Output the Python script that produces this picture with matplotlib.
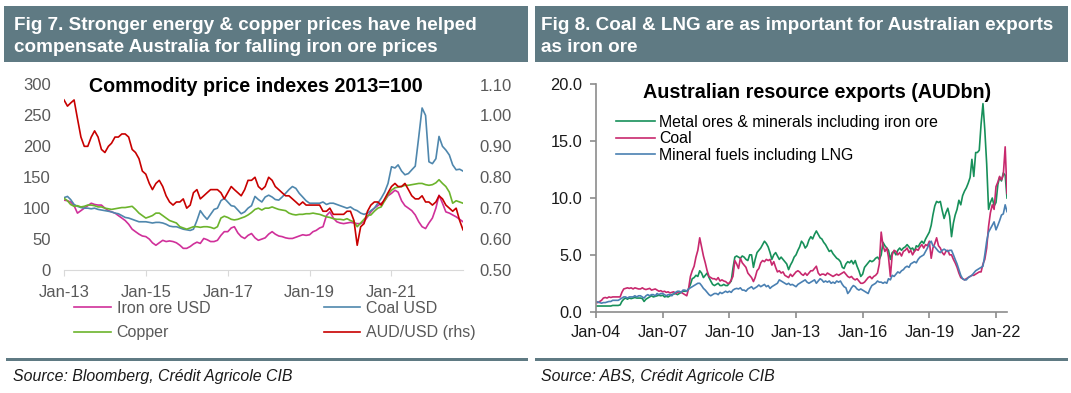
import numpy as np
import pandas as pd
import matplotlib
matplotlib.use("Agg")
import matplotlib.pyplot as plt
import matplotlib.dates as mdates
from matplotlib.patches import Rectangle
from matplotlib.ticker import FormatStrFormatter

plt.rcParams['font.family'] = ['Liberation Sans', 'DejaVu Sans']

# --- Fig 7: indices mensuales, Jan-13 .. Oct-22 (2013=100) ---
fechas_fig7 = pd.date_range('2013-01-01', periods=118, freq='MS')

hierro_usd = [
    113, 112, 110, 104, 92, 96, 100, 104, 108, 106, 105, 105,
    100, 96, 94, 92, 88, 84, 80, 74, 66, 62, 58, 55,
    54, 50, 44, 40, 44, 48, 46, 47, 46, 44, 40, 35,
    35, 38, 42, 45, 43, 51, 49, 46, 46, 48, 56, 62,
    62, 68, 70, 60, 54, 51, 56, 59, 52, 48, 50, 52,
    58, 62, 58, 55, 54, 52, 51, 51, 53, 55, 57, 56,
    57, 62, 64, 68, 70, 88, 94, 84, 78, 76, 75, 76,
    77, 76, 75, 75, 78, 86, 94, 100, 104, 108, 112, 120,
    124, 129, 126, 112, 104, 100, 96, 89, 78, 70, 67, 76,
    84, 100, 121, 108, 94, 92, 89, 86, 82, 78,
]
carbon_usd = [
    117, 119, 114, 106, 103, 101, 100, 100, 99, 100, 98, 97,
    96, 95, 94, 92, 91, 88, 85, 84, 82, 80, 78, 78,
    78, 77, 76, 77, 77, 76, 74, 71, 70, 70, 68, 66,
    65, 64, 66, 80, 96, 88, 82, 90, 98, 100, 112, 116,
    110, 104, 103, 97, 91, 94, 100, 104, 119, 114, 110, 118,
    121, 118, 114, 113, 118, 124, 130, 135, 132, 124, 118, 112,
    108, 108, 108, 108, 110, 106, 108, 108, 106, 104, 102, 100,
    102, 98, 96, 92, 90, 92, 96, 100, 108, 116, 126, 140,
    167, 165, 170, 160, 154, 156, 162, 168, 215, 262, 250, 175,
    172, 180, 216, 200, 194, 186, 170, 162, 163, 160,
]
cobre = [
    116, 112, 106, 103, 104, 102, 103, 105, 105, 104, 102, 102,
    100, 99, 98, 99, 100, 101, 101, 102, 103, 98, 92, 88,
    84, 86, 88, 92, 92, 88, 84, 80, 78, 76, 70, 68,
    66, 68, 70, 70, 69, 70, 70, 69, 67, 70, 84, 87,
    85, 82, 81, 82, 84, 86, 89, 93, 98, 100, 97, 100,
    100, 102, 100, 98, 97, 96, 92, 90, 89, 90, 90, 91,
    91, 92, 91, 90, 88, 86, 85, 83, 82, 82, 81, 83,
    80, 78, 70, 76, 82, 88, 89, 95, 100, 102, 112, 122,
    129, 133, 134, 135, 137, 137, 138, 139, 140, 140, 138, 137,
    138, 141, 146, 140, 135, 126, 108, 112, 110, 108,
]
aud_usd = [
    1.05, 1.03, 1.04, 1.05, 0.99, 0.93, 0.90, 0.90, 0.93, 0.95, 0.93, 0.89,
    0.88, 0.90, 0.91, 0.93, 0.93, 0.94, 0.94, 0.93, 0.89, 0.88, 0.86, 0.82,
    0.81, 0.78, 0.76, 0.78, 0.79, 0.77, 0.74, 0.72, 0.71, 0.72, 0.72, 0.73,
    0.70, 0.71, 0.75, 0.76, 0.73, 0.74, 0.75, 0.76, 0.76, 0.76, 0.75, 0.73,
    0.75, 0.77, 0.76, 0.75, 0.74, 0.76, 0.79, 0.79, 0.80, 0.77, 0.76, 0.77,
    0.80, 0.79, 0.77, 0.76, 0.75, 0.74, 0.74, 0.73, 0.72, 0.71, 0.72, 0.71,
    0.71, 0.71, 0.71, 0.71, 0.69, 0.69, 0.70, 0.68, 0.68, 0.68, 0.68, 0.69,
    0.69, 0.66, 0.58, 0.64, 0.65, 0.69, 0.71, 0.72, 0.72, 0.71, 0.73, 0.75,
    0.77, 0.78, 0.77, 0.77, 0.78, 0.76, 0.74, 0.73, 0.73, 0.74, 0.72, 0.72,
    0.71, 0.72, 0.74, 0.73, 0.71, 0.70, 0.69, 0.70, 0.66, 0.63,
]
ticks_fig7 = pd.date_range('2013-01-01', periods=5, freq='24MS')

# --- Fig 8: exportaciones mensuales (AUDbn), Jan-04 .. Jul-22 ---
fechas_fig8 = pd.date_range('2004-01-01', periods=223, freq='MS')

metales = [
    0.5, 0.5, 0.5, 0.5, 0.5, 0.5, 0.5, 0.5, 0.5, 0.55, 0.55, 0.55,
    0.55, 0.6, 0.9, 1.1, 1.2, 1.1, 1.2, 1.15, 1.2, 1.25, 1.2, 1.2,
    1.2, 1.15, 0.9, 1.1, 1.2, 1.3, 1.4, 1.3, 1.35, 1.4, 1.45, 1.4,
    1.45, 1.3, 1.35, 1.3, 1.4, 1.5, 1.55, 1.6, 1.5, 1.6, 1.7, 1.8,
    1.8, 1.8, 2.0, 2.4, 2.9, 3.0, 3.2, 3.1, 3.6, 3.4, 3.0, 3.2,
    3.4, 3.0, 2.7, 2.4, 2.3, 2.4, 2.5, 2.3, 2.3, 2.4, 2.3, 2.3,
    2.5, 2.7, 3.8, 4.8, 4.9, 4.8, 4.7, 4.9, 4.8, 4.6, 4.5, 5.0,
    5.0, 3.9, 4.6, 5.2, 5.4, 5.6, 5.9, 6.2, 6.0, 5.7, 5.2, 4.6,
    5.0, 5.2, 4.9, 4.6, 4.8, 4.6, 4.4, 4.2, 3.7, 4.1, 4.4, 4.8,
    5.0, 5.4, 5.7, 6.2, 6.0, 5.6, 5.8, 6.3, 6.6, 6.4, 6.8, 7.1,
    6.8, 6.5, 6.4, 6.1, 5.9, 5.6, 5.3, 5.4, 5.1, 4.9, 4.7, 4.6,
    4.4, 3.9, 3.8, 4.2, 4.4, 4.3, 4.5, 4.2, 4.5, 4.0, 3.6, 3.1,
    3.3, 3.9, 4.1, 4.3, 4.5, 4.4, 4.5, 4.7, 4.8, 4.6, 5.0, 6.1,
    5.8, 5.6, 5.4, 4.6, 5.2, 5.3, 5.0, 5.4, 5.6, 5.4, 5.6, 5.7,
    5.9, 5.7, 5.5, 5.6, 5.3, 5.8, 5.7, 6.0, 6.2, 6.0, 6.4, 6.7,
    7.0, 7.6, 8.5, 9.3, 9.7, 9.6, 9.7, 8.9, 8.2, 8.7, 9.1, 8.4,
    6.6, 7.8, 8.5, 9.0, 9.8, 9.4, 10.2, 10.6, 10.9, 11.3, 11.8, 13.4,
    11.9, 14.0, 14.0, 14.2, 16.5, 18.3, 16.0, 13.0, 9.0, 9.6, 10.0, 9.3,
    9.6, 11.2, 11.8, 11.5, 12.2, 12.0, 10.0,
]
carbon = [
    0.8, 0.8, 0.9, 1.0, 1.2, 1.25, 1.2, 1.3, 1.25, 1.3, 1.3, 1.3,
    1.3, 1.3, 1.7, 2.0, 2.05, 2.1, 2.05, 2.1, 2.0, 2.1, 2.05, 2.0,
    2.0, 2.1, 2.0, 1.95, 2.0, 2.05, 1.9, 1.95, 2.0, 1.9, 1.8, 1.85,
    1.75, 1.8, 1.7, 1.75, 1.65, 1.7, 1.75, 1.6, 1.7, 1.75, 1.7, 1.6,
    1.5, 1.4, 2.0, 3.1, 3.6, 4.0, 4.8, 5.4, 6.5, 5.7, 4.9, 4.3,
    3.6, 3.1, 3.0, 2.9, 2.9, 2.8, 3.0, 2.7, 2.8, 2.7, 2.65, 2.5,
    2.5, 2.8, 3.1, 4.5, 4.2, 3.8, 4.7, 4.3, 4.1, 3.9, 3.4, 3.2,
    3.0, 2.65, 3.0, 3.6, 3.8, 4.3, 4.5, 4.4, 4.6, 4.5, 4.6, 4.1,
    4.4, 3.9, 3.5, 3.6, 3.4, 3.5, 3.2, 3.1, 3.0, 3.3, 3.1, 3.3,
    3.5, 3.6, 3.5, 3.3, 3.2, 3.4, 3.2, 3.4, 3.6, 3.6, 3.8, 4.0,
    3.4, 3.2, 3.3, 3.3, 3.2, 3.4, 3.3, 3.2, 3.1, 3.2, 3.3, 3.2,
    3.3, 3.4, 3.5, 3.3, 3.1, 3.0, 3.1, 2.9, 2.8, 2.9, 2.7, 2.5,
    2.5, 2.6, 2.8, 3.0, 3.1, 2.9, 3.1, 3.2, 3.4, 4.2, 7.0, 5.8,
    5.3, 5.6, 4.8, 3.1, 5.0, 5.4, 5.3, 5.0, 5.2, 4.9, 5.3, 5.4,
    5.6, 5.2, 5.4, 5.0, 5.3, 5.5, 5.4, 5.7, 5.9, 5.6, 5.9, 5.8,
    6.2, 4.7, 5.6, 6.0, 6.5, 5.8, 5.6, 5.2, 5.0, 5.3, 5.4, 5.0,
    5.0, 4.6, 4.3, 3.9, 3.4, 3.0, 2.9, 2.8, 2.9, 3.0, 3.1, 3.2,
    3.2, 3.3, 3.4, 3.5, 3.5, 4.2, 4.6, 5.6, 7.5, 8.7, 9.4, 9.0,
    11.0, 11.4, 11.9, 11.6, 12.0, 14.5, 10.4,
]
combustibles = [
    0.9, 0.85, 0.8, 0.75, 0.8, 0.8, 0.85, 0.9, 0.9, 1.0, 1.0, 1.0,
    1.0, 1.1, 1.2, 1.3, 1.3, 1.2, 1.3, 1.3, 1.3, 1.4, 1.3, 1.4,
    1.4, 1.3, 1.2, 1.4, 1.5, 1.4, 1.5, 1.5, 1.4, 1.6, 1.5, 1.6,
    1.6, 1.5, 1.4, 1.5, 1.5, 1.4, 1.6, 1.7, 1.8, 1.8, 1.7, 1.9,
    1.9, 1.8, 2.0, 2.1, 2.2, 2.3, 2.4, 2.5, 2.5, 2.3, 2.05, 1.9,
    1.7, 1.5, 1.4, 1.5, 1.6, 1.6, 1.5, 1.7, 1.6, 1.7, 1.8, 1.7,
    1.8, 1.7, 1.9, 2.0, 2.05, 2.0, 2.1, 1.9, 1.9, 1.8, 2.0, 2.1,
    2.2, 2.0, 2.1, 2.2, 2.35, 2.2, 2.3, 2.4, 2.2, 2.3, 2.05, 2.2,
    2.3, 2.4, 2.5, 2.8, 2.7, 2.6, 2.5, 2.4, 2.5, 2.35, 2.4, 2.3,
    2.2, 2.4, 2.5, 2.6, 2.7, 2.8, 2.6, 2.5, 2.6, 2.7, 2.8, 2.5,
    2.7, 2.9, 2.8, 2.6, 2.7, 2.6, 2.7, 2.5, 2.6, 2.5, 2.7, 2.6,
    2.7, 2.4, 2.2, 2.1, 1.6, 1.8, 2.1, 2.3, 2.2, 2.0, 1.9, 2.0,
    1.9, 1.8, 1.7, 1.6, 2.0, 2.3, 2.4, 2.5, 2.7, 2.6, 2.6, 2.5,
    2.6, 2.5, 2.9, 2.8, 3.2, 3.1, 3.3, 3.5, 3.4, 3.6, 3.7, 3.9,
    4.0, 3.9, 4.2, 4.3, 4.4, 4.3, 4.6, 4.8, 4.9, 5.0, 5.3, 5.6,
    6.0, 6.2, 5.8, 5.7, 5.5, 5.3, 5.2, 5.4, 5.5, 5.4, 5.3, 5.4,
    5.4, 5.0, 4.6, 4.2, 3.7, 3.2, 2.9, 2.8, 2.8, 3.0, 3.1, 3.2,
    3.4, 3.6, 3.7, 3.8, 3.9, 4.0, 5.0, 6.2, 7.0, 7.3, 7.6, 7.9,
    7.2, 7.6, 8.0, 8.5, 8.6, 9.4, 8.8,
]

# --- Colores ---
GRIS_BANDA = '#5f7a83'
GRIS_TEXTO = '#595959'

W, H = 1071, 393
fig = plt.figure(figsize=(W / 100, H / 100), dpi=100)


def caja(x0, y0, x1, y1):
    # rectangulo en pixeles (origen arriba-izquierda)
    fig.add_artist(Rectangle((x0 / W, 1 - y1 / H), (x1 - x0) / W, (y1 - y0) / H,
                             transform=fig.transFigure, color=GRIS_BANDA, lw=0))


def texto(x, y, s, **kw):
    fig.text(x / W, 1 - y / H, s, **kw)


# Encabezados y pies
caja(4, 6, 528, 62)
caja(535, 6, 1068, 62)
caja(6, 358, 528, 361)
caja(535, 358, 1068, 361)

cab = dict(color='white', fontsize=13.6, fontweight='bold', va='center')
texto(14, 26, 'Fig 7. Stronger energy & copper prices have helped', **cab)
texto(14, 48, 'compensate Australia for falling iron ore prices', **cab)
texto(541, 26, 'Fig 8. Coal & LNG are as important for Australian exports', **cab)
texto(541, 48, 'as iron ore', **cab)

pie = dict(fontsize=11.4, style='italic', va='center', color='#1a1a1a')
texto(13, 376, 'Source: Bloomberg, Crédit Agricole CIB', **pie)
texto(541, 376, 'Source: ABS, Crédit Agricole CIB', **pie)

# --- Grafica izquierda ---
ax1 = fig.add_axes([64 / W, 1 - 270 / H, 399 / W, 185.5 / H])
ax1r = ax1.twinx()

l_hierro, = ax1.plot(fechas_fig7, hierro_usd, color='#d0309a', lw=1.2)
l_carbon, = ax1.plot(fechas_fig7, carbon_usd, color='#4f87ad', lw=1.2)
l_cobre, = ax1.plot(fechas_fig7, cobre, color='#6cb42c', lw=1.2)
l_aud, = ax1r.plot(fechas_fig7, aud_usd, color='#c80000', lw=1.2)

ax1.set_ylim(0, 300)
ax1.set_yticks(np.arange(0, 301, 50))
ax1r.set_ylim(0.5, 1.1)
ax1r.set_yticks(np.arange(0.5, 1.101, 0.1))
ax1r.yaxis.set_major_formatter(FormatStrFormatter('%.2f'))
ax1.set_xlim(fechas_fig7[0], fechas_fig7[-1])
ax1.set_xticks(ticks_fig7)
ax1.xaxis.set_major_formatter(mdates.DateFormatter('%b-%y'))

for a in (ax1, ax1r):
    for lado in ('top', 'left', 'right'):
        a.spines[lado].set_visible(False)
    a.spines['bottom'].set_color('#d9d9d9')
ax1r.spines['bottom'].set_visible(False)
ax1.tick_params(axis='y', length=0, pad=9.4, labelsize=12, labelcolor=GRIS_TEXTO)
ax1r.tick_params(axis='y', length=0, pad=12, labelsize=12, labelcolor=GRIS_TEXTO)
ax1.tick_params(axis='x', length=4, color='#d9d9d9', pad=6.5, labelsize=12,
                labelcolor=GRIS_TEXTO)

texto(256, 86, 'Commodity price indexes 2013=100', fontsize=14.2, fontweight='bold',
      ha='center', va='center')

ax1.legend([l_hierro, l_cobre, l_carbon, l_aud],
           ['Iron ore USD', 'Copper', 'Coal USD', 'AUD/USD (rhs)'],
           ncol=2, loc='upper left', bbox_to_anchor=(74 / W, 1 - 301 / H),
           bbox_transform=fig.transFigure, frameon=False, fontsize=11.5,
           labelcolor=GRIS_TEXTO, handlelength=2.3, handletextpad=0.37,
           columnspacing=7.1, labelspacing=0.58, borderpad=0, borderaxespad=0)

# --- Grafica derecha ---
ax2 = fig.add_axes([596 / W, 1 - 311.7 / H, 411 / W, 227.4 / H])
l_met, = ax2.plot(fechas_fig8, metales, color='#17905a', lw=1.2)
l_coal, = ax2.plot(fechas_fig8, carbon, color='#c8296e', lw=1.2)
l_fuel, = ax2.plot(fechas_fig8, combustibles, color='#4a80b2', lw=1.2)

ax2.set_ylim(0, 20)
ax2.set_yticks(np.arange(0, 20.1, 5))
ax2.yaxis.set_major_formatter(FormatStrFormatter('%.1f'))
ax2.set_xlim(fechas_fig8[0], fechas_fig8[-1])
ax2.xaxis.set_major_locator(mdates.YearLocator(3, month=1, day=1))
ax2.xaxis.set_major_formatter(mdates.DateFormatter('%b-%y'))
for lado in ('top', 'right'):
    ax2.spines[lado].set_visible(False)
for lado in ('left', 'bottom'):
    ax2.spines[lado].set_color('#8c8c8c')
    ax2.spines[lado].set_linewidth(1.2)
ax2.tick_params(length=4, color='#8c8c8c', width=1.2, labelsize=11.8,
                labelcolor='#1a1a1a')
ax2.tick_params(axis='y', pad=6)
ax2.tick_params(axis='x', pad=5.5)

texto(817, 93, 'Australian resource exports (AUDbn)', fontsize=14.2, fontweight='bold',
      ha='center', va='center')

ax2.legend([l_met, l_coal, l_fuel],
           ['Metal ores & minerals including iron ore', 'Coal', 'Mineral fuels including LNG'],
           loc='upper left', bbox_to_anchor=(616 / W, 1 - 115 / H),
           bbox_transform=fig.transFigure, frameon=False, fontsize=11.4,
           handlelength=2.45, handletextpad=0.25, labelspacing=0.08,
           borderpad=0, borderaxespad=0)

fig.savefig('out.png', dpi=100)
